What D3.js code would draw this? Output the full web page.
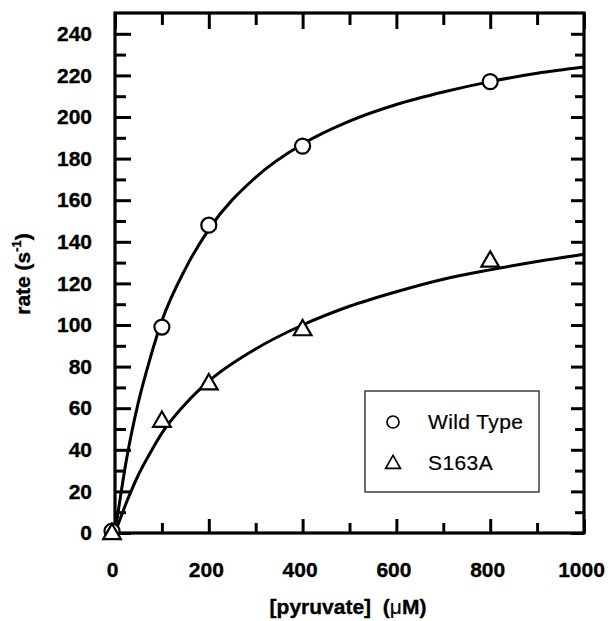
<!DOCTYPE html>
<html>
<head>
<meta charset="utf-8">
<script src="https://cdn.jsdelivr.net/npm/d3@7"></script>
<style>
  html, body { margin: 0; padding: 0; background: #fff; }
  svg { display: block; }
  .lbl { font-family: "Liberation Sans", Arial, Helvetica, sans-serif; font-weight: bold; fill: #000; stroke: #000; stroke-width: 0.35; }
</style>
</head>
<body>
<svg id="chart" width="611" height="621"></svg>
<script>
// ---------------- data ----------------
const seriesNames = ["Wild Type", "S163A"];
const pyruvate = [0, 100, 200, 400, 800];
const rateWT = [0, 99, 148, 186, 217];
const rateS163A = [0, 54, 72, 98, 131];

// fitted curves
const curveX = [0, 25, 50, 75, 100, 150, 200, 300, 400, 500, 600, 700, 800, 900, 1000];
const curveWT = [0, 36, 63, 84, 102, 127, 146, 171, 187, 198, 206, 212, 217, 221, 224];
const curveS163A = [0, 15, 28, 38.5, 48, 62, 73, 88.5, 100, 109, 116, 122, 126.5, 130.5, 134];

const xTicks = [0, 200, 400, 600, 800, 1000];
const xMinorTicks = [100, 300, 500, 700, 900];
const yTicks = [0, 20, 40, 60, 80, 100, 120, 140, 160, 180, 200, 220, 240];
const yMinorTicks = [10, 30, 50, 70, 90, 110, 130, 150, 170, 190, 210, 230];

// ---------------- layout ----------------
const svg = d3.select("#chart");
const L = 115, R = 584, T = 13, B = 533;
const x = d3.scaleLinear().domain([0, 1000]).range([L, R]);
const y = d3.scaleLinear().domain([0, 250]).range([B, T]);

const axisStyle = g => {
  g.select(".domain").remove();
  g.selectAll(".tick line").attr("stroke", "#000").attr("stroke-width", 3);
  g.selectAll(".tick text").attr("class", "lbl").attr("font-size", 21);
};

// bottom
svg.append("g").attr("transform", `translate(0,${B})`)
  .call(d3.axisBottom(x).tickValues(xTicks).tickSize(-14).tickPadding(29).tickFormat(d3.format("d")))
  .call(axisStyle)
  .call(g => g.selectAll(".tick text").attr("dx", -3));
svg.append("g").attr("transform", `translate(0,${B})`)
  .call(d3.axisBottom(x).tickValues(xMinorTicks).tickSize(-10).tickFormat(""))
  .call(axisStyle);
// top
svg.append("g").attr("transform", `translate(0,${T})`)
  .call(d3.axisTop(x).tickValues(xTicks).tickSize(-16).tickFormat(""))
  .call(axisStyle);
svg.append("g").attr("transform", `translate(0,${T})`)
  .call(d3.axisTop(x).tickValues(xMinorTicks).tickSize(-12).tickFormat(""))
  .call(axisStyle);
// left
svg.append("g").attr("transform", `translate(${L},0)`)
  .call(d3.axisLeft(y).tickValues(yTicks).tickSize(-16).tickPadding(23).tickFormat(d3.format("d")))
  .call(axisStyle);
svg.append("g").attr("transform", `translate(${L},0)`)
  .call(d3.axisLeft(y).tickValues(yMinorTicks).tickSize(-11).tickFormat(""))
  .call(axisStyle);
// right
svg.append("g").attr("transform", `translate(${R},0)`)
  .call(d3.axisRight(y).tickValues(yTicks).tickSize(-13).tickFormat(""))
  .call(axisStyle);
svg.append("g").attr("transform", `translate(${R},0)`)
  .call(d3.axisRight(y).tickValues(yMinorTicks).tickSize(-9).tickFormat(""))
  .call(axisStyle);

// frame
svg.append("rect").attr("x", L).attr("y", T).attr("width", R - L).attr("height", B - T)
  .attr("fill", "none").attr("stroke", "#000").attr("stroke-width", 3.2);

// curves
const line = d3.line().x(d => x(d[0])).y(d => y(d[1])).curve(d3.curveMonotoneX);
[curveWT, curveS163A].forEach(c => {
  svg.append("path").datum(curveX.map((v, i) => [v, c[i]]))
    .attr("d", line).attr("fill", "none").attr("stroke", "#000").attr("stroke-width", 3);
});

// markers
svg.append("g").selectAll("circle").data(pyruvate.map((v, i) => [v, rateWT[i]])).join("circle")
  .attr("cx", d => x(d[0]) - (d[0] === 0 ? 3 : 0)).attr("cy", d => y(d[1]) - (d[0] === 0 ? 2 : 0)).attr("r", 7.5)
  .attr("fill", "#fff").attr("stroke", "#000").attr("stroke-width", 2.2);
const tri = d3.symbol().type(d3.symbolTriangle).size(135);
svg.append("g").selectAll("path").data(pyruvate.map((v, i) => [v, rateS163A[i]])).join("path")
  .attr("d", tri).attr("transform", d => `translate(${x(d[0]) - (d[0] === 0 ? 3 : 0)},${y(d[1]) + 1})`)
  .attr("fill", "#fff").attr("stroke", "#000").attr("stroke-width", 2.2);

// legend
const lg = svg.append("g");
lg.append("rect").attr("x", 365).attr("y", 391).attr("width", 174).attr("height", 101)
  .attr("fill", "#fff").attr("stroke", "#222").attr("stroke-width", 1.3);
lg.append("circle").attr("cx", 393).attr("cy", 422).attr("r", 6)
  .attr("fill", "#fff").attr("stroke", "#000").attr("stroke-width", 1.7);
lg.append("path").attr("d", d3.symbol().type(d3.symbolTriangle).size(95))
  .attr("transform", "translate(393,464)")
  .attr("fill", "#fff").attr("stroke", "#000").attr("stroke-width", 1.7);
seriesNames.forEach((n, i) => {
  lg.append("text").attr("x", 428).attr("y", 429 + i * 41)
    .attr("font-family", "'Liberation Sans', Arial, sans-serif")
    .attr("font-size", 21).attr("letter-spacing", 0.4).attr("fill", "#000")
    .attr("stroke", "#000").attr("stroke-width", 0.2).text(n);
});

// axis titles
const xt = svg.append("text").attr("class", "lbl").attr("font-size", 21)
  .attr("x", 348).attr("y", 614).attr("text-anchor", "middle").attr("xml:space", "preserve");
xt.append("tspan").text("[pyruvate]  (");
xt.append("tspan").attr("font-weight", "normal").attr("stroke-width", 0.2).text("μ");
xt.append("tspan").text("M)");

const yt = svg.append("text").attr("class", "lbl").attr("font-size", 21)
  .attr("transform", "translate(30,274) rotate(-90)").attr("text-anchor", "middle");
yt.append("tspan").text("rate (s");
yt.append("tspan").attr("font-size", 13).attr("dy", -9).text("-1");
yt.append("tspan").attr("dy", 9).text(")");
</script>
</body>
</html>
